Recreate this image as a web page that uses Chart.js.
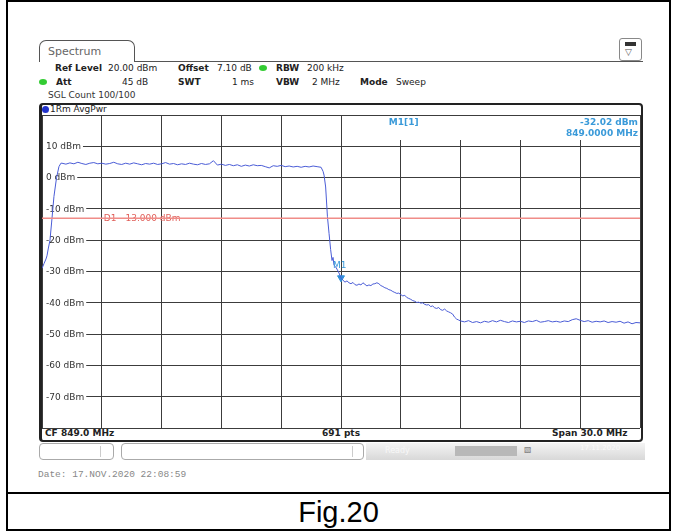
<!DOCTYPE html>
<html>
<head>
<meta charset="utf-8">
<script src="https://cdn.jsdelivr.net/npm/chart.js@4.4.0/dist/chart.umd.min.js"></script>
<style>
  body { margin: 0; width: 676px; height: 532px; background: #fff; position: relative; overflow: hidden;
         font-family: "DejaVu Sans", sans-serif; font-size: 9px; color: #222; }
  .abs { position: absolute; white-space: nowrap; }
  .b { font-weight: bold; }
  #outer { left: 6px; top: 0; width: 665px; height: 531px; border: 2px solid #000; box-sizing: border-box; }
  #sep { left: 6px; top: 492px; width: 665px; height: 2px; background: #000; }
  #fig { left: 6px; top: 494px; width: 665px; height: 36px; line-height: 36px; text-align: center;
         font-family: "Liberation Sans", Arial, sans-serif; font-size: 29px; color: #000; }
  #tab { left: 39px; top: 40px; width: 96px; height: 22px; border: 1px solid #555; border-bottom: none;
         border-radius: 7px 7px 0 0; box-sizing: border-box; }
  #tabline { left: 135px; top: 61px; width: 508px; height: 1px; background: #555; }
  #icon { left: 619px; top: 38px; width: 23px; height: 23px; border: 1px solid #888; border-radius: 3px; box-sizing: border-box; }
  #frame { left: 39px; top: 103px; width: 604px; height: 339px; border: 2px solid #222; border-left-width: 3px;
           border-radius: 4px; box-sizing: border-box; }
  .dot { width: 7px; height: 7px; border-radius: 50%; }
  .box { border: 1px solid #aaa; border-radius: 4px; height: 17px; top: 443px; box-sizing: border-box; }
  #date { left: 38px; top: 469px; font-family: "Liberation Mono", monospace; font-size: 9.5px; color: #888; }
  #chart { position: absolute; left: 0; top: 0; z-index: 5; pointer-events: none; }
</style>
</head>
<body>
<div id="outer" class="abs"></div>
<div id="sep" class="abs"></div>
<div id="fig" class="abs">Fig.20</div>

<div id="tab" class="abs"></div>
<div class="abs" style="left:48px;top:45px;font-size:11px;color:#666;">Spectrum</div>
<div id="tabline" class="abs"></div>
<div id="icon" class="abs">
  <div class="abs" style="left:5px;top:3px;width:11px;height:4px;background:#333;"></div>
  <div class="abs" style="left:5px;top:8px;font-size:9px;color:#555;line-height:10px;">&#9661;</div>
</div>

<div class="abs b" style="left:55px;top:63px;">Ref Level</div>
<div class="abs" style="left:108px;top:63px;">20.00 dBm</div>
<div class="abs b" style="left:178px;top:63px;">Offset</div>
<div class="abs" style="left:217px;top:63px;">7.10 dB</div>
<div class="abs dot" style="left:259px;top:65px;background:#3c3;width:8px;height:6px;"></div>
<div class="abs b" style="left:276px;top:63px;">RBW</div>
<div class="abs" style="left:307px;top:63px;">200 kHz</div>

<div class="abs dot" style="left:39px;top:79px;background:#3c3;width:8px;height:6px;"></div>
<div class="abs b" style="left:56px;top:77px;">Att</div>
<div class="abs" style="left:122px;top:77px;">45 dB</div>
<div class="abs b" style="left:178px;top:77px;">SWT</div>
<div class="abs" style="left:232px;top:77px;">1 ms</div>
<div class="abs b" style="left:276px;top:77px;">VBW</div>
<div class="abs" style="left:312px;top:77px;">2 MHz</div>
<div class="abs b" style="left:360px;top:77px;">Mode</div>
<div class="abs" style="left:396px;top:77px;">Sweep</div>

<div class="abs" style="left:48px;top:90px;color:#333;">SGL Count 100/100</div>

<div id="frame" class="abs"></div>
<div class="abs dot" style="left:42px;top:106px;background:#2233cc;"></div>
<div class="abs" style="left:50px;top:104px;">1Rm AvgPwr</div>

<div class="abs b" style="left:45px;top:428px;">CF 849.0 MHz</div>
<div class="abs b" style="left:322px;top:428px;">691 pts</div>
<div class="abs b" style="left:552px;top:428px;">Span 30.0 MHz</div>

<div class="abs box" style="left:39px;width:75px;"><div class="abs" style="left:60px;top:2px;width:1px;height:11px;background:#ccc;"></div></div>
<div class="abs box" style="left:121px;width:243px;"><div class="abs" style="left:230px;top:2px;width:1px;height:11px;background:#ccc;"></div></div>
<div class="abs" style="left:366px;top:443px;width:279px;height:17px;background:linear-gradient(#f4f4f4,#d8d8d8);"></div>
<div class="abs" style="left:385px;top:446px;color:#f8f8f8;font-size:8px;">Ready</div>
<div class="abs" style="left:455px;top:446px;width:62px;height:10px;background:#b8b8b8;"></div>
<div class="abs" style="left:524px;top:445px;font-size:8px;color:#777;" class="b">&#9639;</div>
<div class="abs" style="left:580px;top:444px;color:#fafafa;font-size:7px;">17.11.2020</div>

<div id="date" class="abs">Date: 17.NOV.2020  22:08:59</div>

<canvas id="chart" width="676" height="532"></canvas>

<script>
// trace 1 (1Rm AvgPwr), frequency in MHz, level in dBm
const freqMHz = [
  834.0, 834.1, 834.2, 834.25, 834.32, 834.4, 834.48, 834.6, 834.73, 834.85, 834.95,
  835.0, 835.2, 835.4, 835.6, 835.8, 836.0, 836.2, 836.4, 836.6, 836.8,
  837.0, 837.2, 837.4, 837.6, 837.8, 838.0, 838.2, 838.4, 838.6, 838.8,
  839.0, 839.2, 839.4, 839.6, 839.8, 840.0, 840.2, 840.4, 840.6, 840.8,
  841.0, 841.2, 841.4, 841.6, 841.8, 842.0, 842.2, 842.4, 842.6, 842.8,
  843.0, 843.2, 843.4, 843.6, 843.8, 844.0, 844.2, 844.4, 844.6, 844.8,
  845.0, 845.2, 845.4, 845.6, 845.8, 846.0, 846.2, 846.4, 846.6, 846.8,
  847.0, 847.2, 847.4, 847.6, 847.8, 848.0, 848.1, 848.15, 848.23, 848.32,
  848.4, 848.48, 848.55, 848.6, 848.65, 848.73, 848.82, 848.9, 849.0, 849.1,
  849.2, 849.3, 849.4, 849.5, 849.6, 849.7, 849.8, 849.9, 850.0, 850.1,
  850.2, 850.3, 850.4, 850.5, 850.6, 850.7, 850.8, 850.9, 851.0, 851.1,
  851.2, 851.3, 851.4, 851.5, 851.6, 851.7, 851.8, 851.9, 852.0, 852.1,
  852.2, 852.3, 852.4, 852.5, 852.6, 852.7, 852.8, 852.9, 853.0, 853.1,
  853.2, 853.3, 853.4, 853.5, 853.6, 853.7, 853.8, 853.9, 854.0, 854.1,
  854.2, 854.3, 854.4, 854.5, 854.6, 854.7, 854.8, 854.9, 855.0, 855.2,
  855.4, 855.6, 855.8, 856.0, 856.2, 856.4, 856.6, 856.8, 857.0, 857.2,
  857.4, 857.6, 857.8, 858.0, 858.2, 858.4, 858.6, 858.8, 859.0, 859.2,
  859.4, 859.6, 859.8, 860.0, 860.2, 860.4, 860.6, 860.8, 861.0, 861.2,
  861.4, 861.6, 861.8, 862.0, 862.2, 862.4, 862.6, 862.8, 863.0, 863.2,
  863.4, 863.6, 863.8, 864.0
];
const levelDbm = [
  -29.0, -27.5, -26.0, -25.0, -22.5, -20.0, -14.5, -6.0, 0.0, 3.5, 4.6,
  4.6, 4.3, 4.7, 4.4, 4.9, 4.5, 4.2, 4.6, 4.8, 4.4,
  4.6, 4.3, 4.5, 4.9, 4.4, 4.2, 4.6, 4.3, 4.7, 4.4,
  4.1, 4.5, 4.3, 4.6, 4.2, 4.4, 4.8, 4.3, 4.5, 4.1,
  4.4, 4.2, 4.6, 4.3, 4.1, 4.5, 4.2, 4.4, 5.4, 4.0,
  4.3, 3.9, 4.2, 3.8, 4.1, 3.6, 4.0, 3.7, 4.1, 3.8,
  3.9, 3.5, 3.1, 3.8, 3.6, 3.9, 3.5, 3.7, 3.4, 3.6,
  3.3, 3.6, 3.4, 3.7, 3.5, 3.3, 2.0, 0.8, -3.0, -12.5,
  -17.8, -23.0, -26.5, -25.5, -28.0, -28.5, -29.5, -30.5, -32.0, -32.8,
  -33.4, -33.0, -33.6, -33.9, -33.5, -34.2, -34.4, -34.0, -34.3, -33.6,
  -34.1, -34.6, -34.3, -34.5, -34.0, -33.9, -33.6, -33.9, -34.5, -34.8,
  -35.2, -35.4, -35.8, -36.0, -36.4, -36.7, -37.0, -36.9, -37.4, -37.8,
  -37.6, -38.3, -38.6, -38.9, -39.3, -39.5, -39.9, -39.8, -40.1, -40.0,
  -40.5, -40.7, -40.6, -41.2, -41.0, -41.6, -41.8, -41.5, -42.2, -42.4,
  -42.0, -42.6, -42.9, -43.2, -43.6, -44.6, -45.2, -45.5, -45.8, -46.1,
  -45.7, -46.3, -46.0, -46.4, -45.9, -46.2, -45.7, -46.1, -45.6, -46.0,
  -46.3, -45.8, -46.1, -45.9, -46.3, -45.8, -46.0, -45.6, -46.2, -46.0,
  -45.7, -46.1, -45.9, -46.2, -45.8, -46.0, -45.4, -45.1, -45.6, -46.0,
  -45.7, -46.2, -45.9, -46.1, -45.8, -46.3, -46.0, -46.2, -45.9, -46.5,
  -46.1, -46.7, -46.3, -46.4
];

const yTickValues = [10, 0, -10, -20, -30, -40, -50, -60, -70];
const yTickLabels = ['10 dBm', '0 dBm', '-10 dBm', '-20 dBm', '-30 dBm', '-40 dBm', '-50 dBm', '-60 dBm', '-70 dBm'];

const d1Level = -13;          // display line D1
const markerFreq = 849.0;     // M1
const markerLevel = -32.02;

const startFreq = 834, stopFreq = 864;

const traceData = freqMHz.map((f, i) => ({ x: f, y: levelDbm[i] }));

const panelText = {
  id: 'panelText',
  beforeDatasetsDraw(chart) {
    const { ctx, chartArea: a, scales: { x, y } } = chart;
    ctx.save();
    // marker readout box covers the top of the grid
    const mx = x.getPixelForValue(markerFreq);
    ctx.fillStyle = '#fff';
    ctx.fillRect(mx + 1, a.top + 1, a.right - mx - 1, 24);

    ctx.font = '9px "DejaVu Sans"';
    ctx.textBaseline = 'middle';
    yTickLabels.forEach((lab, i) => {
      const py = y.getPixelForValue(yTickValues[i]);
      const w = ctx.measureText(lab).width;
      ctx.fillStyle = '#fff';
      ctx.fillRect(a.left + 1, py - 2, w + 5, 4);
      ctx.fillStyle = '#333';
      ctx.fillText(lab, a.left + 4, py + 0.5);
    });

    ctx.fillStyle = '#e0605a';
    ctx.fillText('D1  -13.000 dBm', x.getPixelForValue(837) + 2, y.getPixelForValue(d1Level) + 0.5);

    ctx.font = 'bold 9px "DejaVu Sans"';
    ctx.fillStyle = '#3a9ad9';
    ctx.fillText('M1[1]', x.getPixelForValue(851.4), a.top + 8);
    ctx.textAlign = 'right';
    ctx.fillText('-32.02 dBm', a.right - 2, a.top + 8);
    ctx.fillText('849.0000 MHz', a.right - 2, a.top + 19);
    ctx.restore();
  },
  afterDatasetsDraw(chart) {
    const { ctx, scales: { x, y } } = chart;
    ctx.save();
    ctx.font = '9px "DejaVu Sans"';
    ctx.fillStyle = '#3a9ad9';
    ctx.textBaseline = 'middle';
    ctx.fillText('M1', x.getPixelForValue(markerFreq) - 8, y.getPixelForValue(markerLevel) - 12);
    ctx.restore();
  }
};

new Chart(document.getElementById('chart'), {
  type: 'line',
  data: {
    datasets: [
      {
        label: 'D1',
        data: [{ x: startFreq, y: d1Level }, { x: stopFreq, y: d1Level }],
        borderColor: '#f08c88',
        borderWidth: 1.5,
        pointRadius: 0
      },
      {
        label: '1Rm AvgPwr',
        data: traceData,
        borderColor: '#4a5cd6',
        borderWidth: 1,
        pointRadius: 0,
        tension: 0
      },
      {
        label: 'M1',
        data: [{ x: markerFreq, y: markerLevel }],
        showLine: false,
        pointStyle: 'triangle',
        rotation: 180,
        pointRadius: 4,
        backgroundColor: '#2f8fd8',
        borderColor: '#2f8fd8'
      }
    ]
  },
  options: {
    responsive: false,
    animation: false,
    devicePixelRatio: 1,
    layout: { padding: { left: 42, right: 36, top: 115, bottom: 104 } },
    plugins: { legend: { display: false }, tooltip: { enabled: false } },
    scales: {
      x: {
        type: 'linear',
        min: startFreq,
        max: stopFreq,
        ticks: { display: false, stepSize: 3 },
        grid: { color: '#3c3c3c', lineWidth: 1, drawTicks: false },
        border: { display: false }
      },
      y: {
        min: -80,
        max: 20,
        ticks: { display: false, stepSize: 10 },
        grid: { color: '#3c3c3c', lineWidth: 1, drawTicks: false },
        border: { display: false }
      }
    }
  },
  plugins: [panelText]
});
</script>
</body>
</html>
